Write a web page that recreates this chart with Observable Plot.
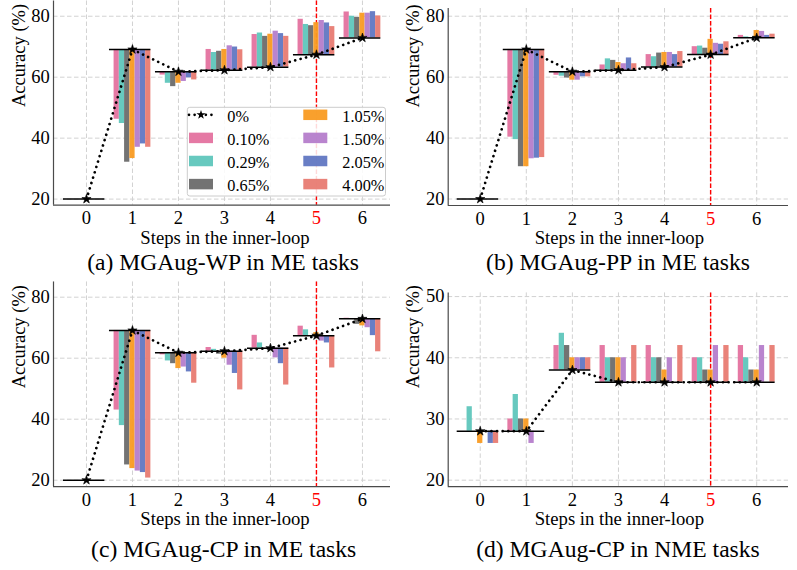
<!DOCTYPE html>
<html><head><meta charset="utf-8">
<script src="https://cdn.jsdelivr.net/npm/d3@7"></script>
<script src="https://cdn.jsdelivr.net/npm/@observablehq/plot@0.6"></script>
<style>
body{margin:0;background:#fff;}
#fig{position:relative;width:797px;height:570px;overflow:hidden;font-family:"Liberation Serif","Times New Roman",serif;background:#fff;}
.panel{position:absolute;}
.caption{position:absolute;font-size:23.6px;white-space:nowrap;transform:translateX(-50%);line-height:1;color:#000;}
</style></head><body><div id="fig"></div>
<script>
// ---------------- data ----------------
const steps = [0, 1, 2, 3, 4, 5, 6];
const series = ["0.10%", "0.29%", "0.65%", "1.05%", "1.50%", "2.05%", "4.00%"];
const seriesColors = ["#e4729f", "#5fc6bc", "#6b6b6b", "#f99b22", "#b57dcb", "#6177c2", "#e87b72"];
const baselineLabel = "0%";
const yTicksME = [20, 40, 60, 80];
const yTicksNME = [20, 30, 40, 50];
const highlightStep = 5;

// 0% baseline accuracy per step
const baselineME = [20, 69.1, 61.8, 62.3, 63.3, 67.4, 72.9];
const baselineNME = [28, 28, 38, 36, 36, 36, 36];

// (a) MGAug-WP in ME tasks: one row per series, one value per step
const valuesWP = [
  [20, 46.2, 60.7, 69.1, 74.0, 79.0, 81.4],
  [20, 44.8, 58.0, 68.1, 74.5, 77.3, 80.0],
  [20, 32.1, 56.9, 68.5, 73.4, 76.9, 79.6],
  [20, 33.3, 58.0, 69.1, 74.1, 77.9, 81.0],
  [20, 37.0, 58.6, 70.3, 75.1, 78.6, 81.0],
  [20, 38.1, 59.8, 69.9, 74.3, 77.8, 81.5],
  [20, 37.0, 59.1, 69.0, 73.4, 76.6, 80.1]
];
// (b) MGAug-PP in ME tasks
const valuesPP = [
  [20, 40.3, 60.6, 64.0, 67.4, 70.0, 73.7],
  [20, 39.5, 60.3, 66.0, 66.7, 70.2, 73.2],
  [20, 30.6, 59.7, 65.5, 67.9, 69.5, 72.9],
  [20, 30.6, 59.0, 64.8, 68.1, 72.4, 75.3],
  [20, 33.2, 59.0, 64.4, 68.1, 71.1, 75.0],
  [20, 33.4, 60.1, 66.3, 67.4, 70.8, 73.7],
  [20, 33.6, 60.1, 64.4, 68.4, 71.6, 74.1]
];
// (c) MGAug-CP in ME tasks
const valuesCP = [
  [20, 43.0, 61.1, 63.5, 67.5, 70.5, 73.1],
  [20, 37.9, 59.1, 62.9, 65.0, 69.3, 72.9],
  [20, 25.0, 58.2, 61.3, 63.0, 67.4, 71.1],
  [20, 23.8, 56.6, 60.0, 63.3, 68.4, 70.6],
  [20, 23.0, 57.1, 57.7, 60.1, 65.6, 70.0],
  [20, 22.5, 55.5, 55.0, 58.2, 65.0, 67.4],
  [20, 20.7, 51.8, 49.6, 51.2, 56.8, 62.1]
];
// (d) MGAug-CP in NME tasks
const valuesCPNME = [
  [28, 30, 42, 42, 42, 40, 42],
  [32, 34, 44, 40, 40, 40, 40],
  [28, 30, 42, 40, 40, 38, 38],
  [26, 30, 40, 40, 38, 38, 38],
  [28, 26, 40, 40, 40, 42, 42],
  [26, 28, 40, 36, 36, 36, 36],
  [26, 28, 40, 42, 42, 42, 42]
];

const xLabel = "Steps in the inner-loop";
const yLabel = "Accuracy (%)";
const captions = ["(a) MGAug-WP in ME tasks", "(b) MGAug-PP in ME tasks", "(c) MGAug-CP in ME tasks", "(d) MGAug-CP in NME tasks"];

// ---------------- drawing ----------------
const fig = document.getElementById("fig");
const FONT = '"Liberation Serif", "Times New Roman", serif';
const barW = 0.8 / series.length;

function makePanel(cfg) {
  const bars = [];
  series.forEach((s, i) => {
    steps.forEach((st, j) => {
      bars.push({
        x1: st + (i - 3) * barW - barW / 2,
        x2: st + (i - 3) * barW + barW / 2,
        y1: cfg.base[j],
        y2: cfg.vals[i][j],
        color: seriesColors[i]
      });
    });
  });
  const H = 250;
  const chart = Plot.plot({
    width: 400,
    height: H,
    marginLeft: cfg.mL,
    marginRight: cfg.mR,
    marginTop: cfg.mT,
    marginBottom: H - cfg.yBottom,
    x: {domain: cfg.xDomain},
    y: {domain: cfg.yDomain},
    color: {type: "identity"},
    style: {fontFamily: FONT, fontSize: "18.5px", background: "none", overflow: "visible", color: "black"},
    marks: [
      Plot.ruleX(steps, {x: d => d, stroke: "#d2d2d2", strokeWidth: 1, strokeDasharray: "4.5,2.5"}),
      Plot.ruleY(cfg.yTicks, {y: d => d, stroke: "#d2d2d2", strokeWidth: 1, strokeDasharray: "4.5,2.5"}),
      Plot.ruleX([highlightStep], {x: d => d, stroke: "#ff0000", strokeWidth: 1.4, strokeDasharray: "4.5,2"}),
      Plot.rect(bars, {x1: "x1", x2: "x2", y1: "y1", y2: "y2", fill: "color", fillOpacity: 0.95}),
      Plot.ruleY(steps, {y: j => cfg.base[j], x1: s => s - 0.5, x2: s => s + 0.4, stroke: "black", strokeWidth: 1.5}),
      Plot.line(steps, {x: d => d, y: j => cfg.base[j], stroke: "black", strokeWidth: 2.7, strokeDasharray: "0.01,5.6", strokeLinecap: "round"}),
      Plot.dot(steps, {x: d => d, y: j => cfg.base[j], symbol: "star", r: 2.9, fill: "black", stroke: "black", strokeWidth: 0.6}),
      Plot.ruleY([cfg.yDomain[0]], {y: d => d, stroke: "#4a4a4a", strokeWidth: 1.2}),
      Plot.ruleX([cfg.xDomain[0]], {x: d => d, stroke: "#4a4a4a", strokeWidth: 1.2}),
      Plot.axisX(steps, {tickSize: 0, tickPadding: 6, fontSize: 18.5, fontFamily: FONT, label: null,
        fill: d => d === highlightStep ? "#ff0000" : "black"}),
      Plot.axisY(cfg.yTicks, {tickSize: 0, tickPadding: 3.7, fontSize: 18.5, fontFamily: FONT, label: null}),
      Plot.text([xLabel], {frameAnchor: "bottom", text: d => d, dy: 32.6, dx: cfg.xlDx, fontSize: 18.7, fontFamily: FONT, lineAnchor: "middle"}),
      Plot.text([yLabel], {frameAnchor: "left", text: d => d, rotate: -90, dx: cfg.ylDx, dy: cfg.ylDy, fontSize: 18.5, fontFamily: FONT, lineAnchor: "middle"})
    ]
  });
  chart.classList.add("panel");
  chart.style.left = cfg.left + "px";
  chart.style.top = cfg.top + "px";
  fig.appendChild(chart);

  const cap = document.createElement("div");
  cap.className = "caption";
  cap.textContent = cfg.caption;
  cap.style.left = cfg.capX + "px";
  cap.style.top = cfg.capTop + "px";
  fig.appendChild(cap);
}

const meA = {xDomain: [-0.717, 6.61], mL: 53, mR: 10};
const meB = {xDomain: [-0.695, 6.69], mL: 47.7, mR: 12};

makePanel({...meA, base: baselineME, vals: valuesWP, yTicks: yTicksME, yDomain: [18, 85], mT: 0.5, yBottom: 204.7,
  left: 0, top: 0, xlDx: 3, ylDx: -34.5, ylDy: 4, caption: captions[0], capX: 223, capTop: 251});
makePanel({...meB, base: baselineME, vals: valuesPP, yTicks: yTicksME, yDomain: [17.87, 82.53], mT: 8, yBottom: 205,
  left: 400, top: 0, xlDx: 1, ylDx: -35.5, ylDy: 0.5, caption: captions[1], capX: 618, capTop: 251});
makePanel({...meA, base: baselineME, vals: valuesCP, yTicks: yTicksME, yDomain: [17.9, 85], mT: 0.45, yBottom: 205.1,
  left: 0, top: 280.6, xlDx: 3, ylDx: -34, ylDy: 4, caption: captions[2], capX: 223.7, capTop: 538});
makePanel({...meB, base: baselineNME, vals: valuesCPNME, yTicks: yTicksNME, yDomain: [18.95, 50.6], mT: 11.4, yBottom: 205.1,
  left: 400, top: 280.6, xlDx: 1, ylDx: -35.5, ylDy: -1.5, caption: captions[3], capX: 618, capTop: 538});

// ---------------- legend (panel a) ----------------
const leg = d3.select(fig).append("svg")
  .attr("width", 202).attr("height", 92)
  .style("position", "absolute").style("left", "186px").style("top", "106px")
  .style("font-family", FONT);
leg.append("rect").attr("x", 1.3).attr("y", 1.3).attr("width", 198.2).attr("height", 88.7)
  .attr("rx", 2.5).attr("fill", "white").attr("fill-opacity", 0.85).attr("stroke", "#cccccc").attr("stroke-width", 1);
const rowY = [8.8, 31.9, 55.0, 78.1];
const colX = [3, 117.3];
const txtX = [41.3, 156.3];
const items = [{label: baselineLabel, base: true}].concat(series.map((s, i) => ({label: s, color: seriesColors[i]})));
items.forEach((it, k) => {
  const col = k < 4 ? 0 : 1;
  const row = k % 4;
  const y = rowY[row];
  const g = leg.append("g");
  if (it.base) {
    g.append("line").attr("x1", colX[col]).attr("x2", colX[col] + 24).attr("y1", y).attr("y2", y)
      .attr("stroke", "black").attr("stroke-width", 2.7).attr("stroke-dasharray", "0.01,5.6").attr("stroke-linecap", "round");
    g.append("path").attr("d", d3.symbol(d3.symbolStar, 26)()).attr("transform", `translate(${colX[col] + 12},${y})`)
      .attr("fill", "black");
  } else {
    g.append("rect").attr("x", colX[col]).attr("y", y - 5.25).attr("width", 24).attr("height", 10.5)
      .attr("fill", it.color).attr("fill-opacity", 0.95);
  }
  g.append("text").attr("x", txtX[col]).attr("y", y + 7).attr("font-size", 16.3).attr("fill", "black").text(it.label);
});
</script></body></html>
